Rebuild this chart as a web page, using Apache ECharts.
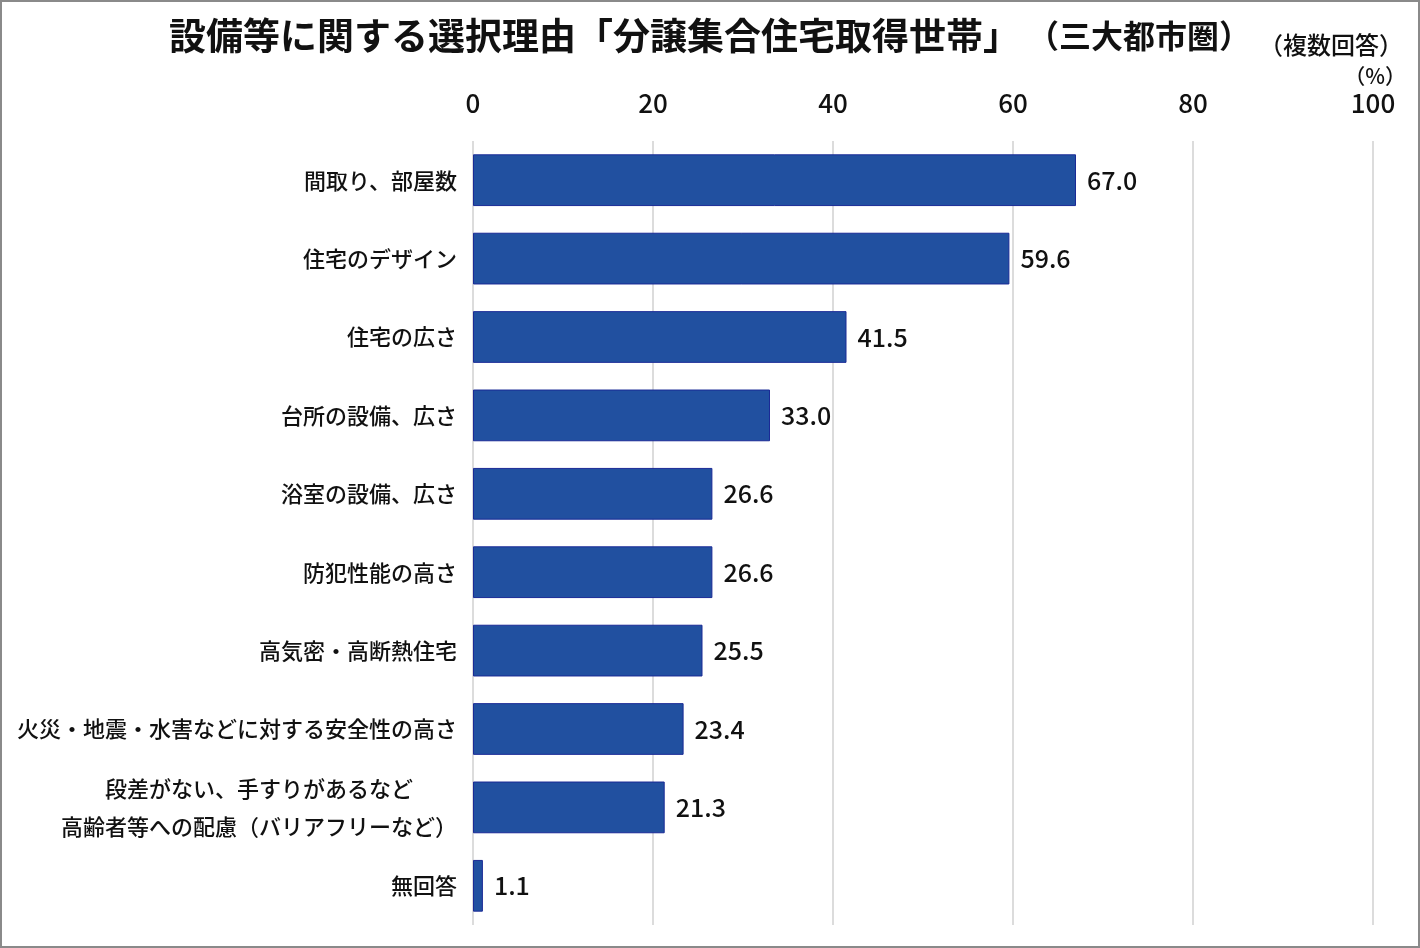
<!DOCTYPE html>
<html><head><meta charset="utf-8">
<script src="https://cdn.jsdelivr.net/npm/echarts@6/dist/echarts.min.js"></script>
<style>html,body{margin:0;padding:0;background:#fff}#c{width:1420px;height:948px}</style>
</head><body><div id="c"></div>
<script>
const categories = [
  '間取り、部屋数',
  '住宅のデザイン',
  '住宅の広さ',
  '台所の設備、広さ',
  '浴室の設備、広さ',
  '防犯性能の高さ',
  '高気密・高断熱住宅',
  '火災・地震・水害などに対する安全性の高さ',
  '段差がない、手すりがあるなど\n高齢者等への配慮（バリアフリーなど）',
  '無回答'
];
const values = [67.0, 59.6, 41.5, 33.0, 26.6, 26.6, 25.5, 23.4, 21.3, 1.1];
const axisMin = 0, axisMax = 100, axisStep = 20;

const FONT = '"Noto Sans CJK JP", "Noto Sans", sans-serif';
const chart = echarts.init(document.getElementById('c'));
chart.setOption({
  backgroundColor: '#fff',
  textStyle: { fontFamily: FONT },
  title: [
    { text: '設備等に関する選択理由「分譲集合住宅取得世帯」', left: 164, top: 12,
      textStyle: { fontFamily: FONT, fontSize: 37, fontWeight: 'bold', color: '#111' } },
    { text: '（三大都市圏）', left: 1022, top: 15,
      textStyle: { fontFamily: FONT, fontSize: 32, fontWeight: 'bold', color: '#111' } },
    { text: '（複数回答）', right: 12, top: 28,
      textStyle: { fontFamily: FONT, fontSize: 24, fontWeight: 500, color: '#111' } },
    { text: '（%）', right: 9, top: 61,
      textStyle: { fontFamily: FONT, fontSize: 21, fontWeight: 500, color: '#111' } }
  ],
  graphic: [{ type: 'rect', shape: { x: 1, y: 1, width: 1418, height: 946 },
    style: { fill: 'none', stroke: '#8a8a8a', lineWidth: 2 }, silent: true }],
  grid: { left: 473, right: 47, top: 141, bottom: 23, containLabel: false },
  xAxis: {
    type: 'value', position: 'top', min: axisMin, max: axisMax, interval: axisStep,
    axisLine: { show: false }, axisTick: { show: false },
    axisLabel: { fontFamily: FONT, fontSize: 26, fontWeight: 500, color: '#111', margin: 25 },
    splitLine: { show: true, lineStyle: { color: '#d0d0d0', width: 1.5 } }
  },
  yAxis: {
    type: 'category', inverse: true, data: categories,
    axisLine: { show: false }, axisTick: { show: false },
    axisLabel: {
      fontFamily: FONT, fontSize: 22, fontWeight: 500, color: '#111', margin: 16, lineHeight: 38, align: 'right',
      formatter: v => v.indexOf('\n') >= 0 ? v.split('\n').map(s => '{c|' + s + '}').join('\n') : v,
      rich: { c: { fontFamily: FONT, fontSize: 22, fontWeight: 500, color: '#111', lineHeight: 38, width: 396, align: 'center' } }
    }
  },
  series: [{
    type: 'bar', data: values, barWidth: '66%',
    itemStyle: { color: '#2150A0', borderColor: '#1A2A96', borderWidth: 1 },
    label: { show: true, position: 'right', distance: 11, formatter: p => p.value.toFixed(1),
      fontFamily: FONT, fontSize: 25, fontWeight: 500, color: '#111' }
  }]
});
</script></body></html>
